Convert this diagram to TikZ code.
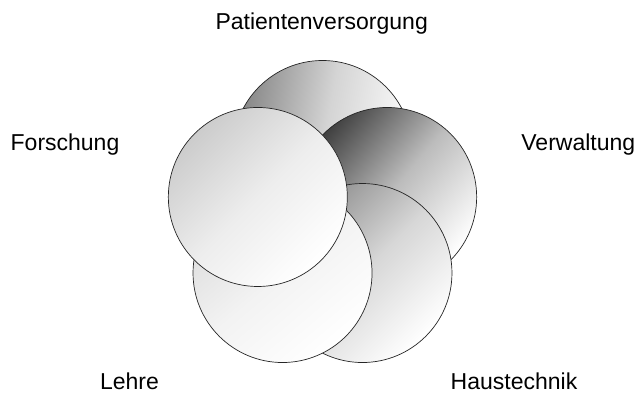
\documentclass[tikz,border=0pt]{standalone}
\usepackage{fontspec}
\setmainfont{Liberation Sans}
\usetikzlibrary{positioning}

\begin{document}
\begin{tikzpicture}[
			x=1pt,y=1pt,
			every node/.style={font=\fontsize{23}{27}\selectfont},
			petal/.style={circle,draw=black!85,line width=0.7pt,inner sep=0,minimum size=179pt},
			shade dark/.style={top color=black!#1,bottom color=white,middle color=black!#1!white!35!white},
			label text/.style={anchor=base,inner sep=0},
		]
		
		\useasboundingbox (-322.5,-176) rectangle (319.5,218);
		\coordinate (mid) at (0,0);
		
		% circles, back to front
		\node[petal,shade dark=48,shading angle=80] (patient) at (90:68) {};
		\node[petal,shade dark=75,shading angle=50] (verwaltung) at (18:68) {};
		\node[petal,shade dark=45,shading angle=45] (haustechnik) at (-54:68) {};
		\node[petal,shade dark=14,shading angle=40] (lehre) at (-126:68) {};
		\node[petal,shade dark=20,shading angle=45] (forschung) at (162:68) {};
		
		% labels
		\node[label text] (tpatient) at (-0.8,188.7) {Patientenversorgung};
		\node[label text] (tverwaltung) at (255.8,67.3) {Verwaltung};
		\node[label text] (thaustechnik) at (191.5,-171.5) {Haustechnik};
		\node[label text] (tlehre) at (-193,-171.5) {Lehre};
		\node[label text] (tforschung) at (-257.5,67.3) {Forschung};
		
	\end{tikzpicture}
\end{document}
